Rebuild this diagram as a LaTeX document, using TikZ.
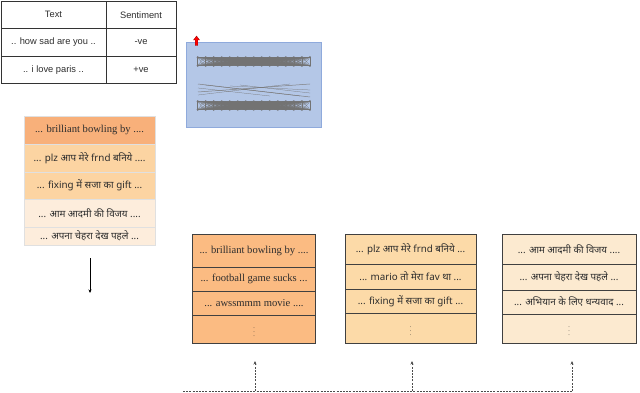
\documentclass[tikz,border=0pt]{standalone}
\usepackage{fontspec}
\setmainfont{Liberation Serif}
\newfontfamily\tabfont{Liberation Sans}
\newfontfamily\hin[Script=Devanagari]{Noto Sans}
\usetikzlibrary{arrows.meta}
\definecolor{bluebox}{RGB}{180,199,231}
\definecolor{blueedge}{RGB}{143,170,220}
\definecolor{orA}{RGB}{251,187,130}
\definecolor{orB}{RGB}{252,218,168}
\definecolor{orC}{RGB}{252,234,208}
\definecolor{lsA}{RGB}{248,176,122}
\definecolor{lsB}{RGB}{252,212,162}
\definecolor{lsC}{RGB}{253,237,220}
\definecolor{txt}{RGB}{45,45,45}
\newcommand{\vd}{{\fontsize{6}{6}\selectfont$\vdots$}}
\tikzset{
  tcell/.style={draw=black!80, line width=0.7pt, inner sep=0pt, text=txt,
    font=\tabfont\fontsize{9.3}{11}\selectfont},
  lcell/.style={draw=black!12, line width=0.5pt, inner sep=0pt, text=txt,
    minimum width=131pt, font=\fontsize{10.6}{12}\selectfont},
  bcell/.style={draw=black!75, line width=0.7pt, inner sep=0pt, text=txt,
    font=\fontsize{10.6}{12}\selectfont},
  hn/.style={font=\hin\fontsize{9.8}{11}\selectfont},
  nn/.style={draw=black!55, line width=0.25pt},
  nnx/.style={draw=black!50, line width=0.5pt},
  solidarrow/.style={draw=black, line width=0.6pt, -{Stealth[length=3.5pt,width=3pt]}},
  dasharrow/.style={draw=black!70, line width=0.7pt, dashed, dash pattern=on 2pt off 1.2pt},
}
\begin{document}
\begin{tikzpicture}[x=1pt,y=-1pt]
\useasboundingbox (0,0) rectangle (640,393);

% table
\node[tcell, minimum width=105pt, minimum height=27.5pt] (t11) at (53.5,14.75) {Text};
\node[tcell, minimum width=70pt, minimum height=27.5pt] (t12) at (141,14.75) {Sentiment};
\node[tcell, minimum width=105pt, minimum height=27.5pt] (t21) at (53.5,42.25) {.. how sad are you ..};
\node[tcell, minimum width=70pt, minimum height=27.5pt] (t22) at (141,42.25) {-ve};
\node[tcell, minimum width=105pt, minimum height=27.5pt] (t31) at (53.5,69.75) {.. i love paris ..};
\node[tcell, minimum width=70pt, minimum height=27.5pt] (t32) at (141,69.75) {+ve};

% blue model box
\node[draw=blueedge, fill=bluebox, line width=0.6pt, minimum width=135pt, minimum height=85pt, inner sep=0pt] (model) at (253.5,84.5) {};
\foreach \i in {0,...,14}{
  \foreach \j in {0,...,14}{
    \draw[nn] ({197+\i*8.1},57) -- ({197+\j*8.1},66);
    \draw[nn] ({197+\i*8.1},101) -- ({197+\j*8.1},110);
  }
}
\draw[nnx] (198,84) -- (310,97);
\draw[nnx] (198,92) -- (310,84);
\draw[nn] (205,85) -- (300,96);
\draw[nn] (230,86) -- (310,90);
\draw[nn] (198,95) -- (290,84);
\draw[nn] (240,85) -- (310,93);
\draw[nn] (198,88) -- (270,96);
% red arrow
\draw[draw=red!60!black, fill=red, line width=0.3pt]
  (195.2,45.5) -- (195.2,40) -- (193.5,40) -- (196.5,36) -- (199.5,40) -- (197.8,40) -- (197.8,45.5) -- cycle;

% left stack
\node[lcell, fill=lsA, minimum height=28pt] (l1) at (89.5,130) {... brilliant bowling by ....};
\node[lcell, fill=lsB, minimum height=28pt, hn] (l2) at (89.5,158) {... plz आप मेरे frnd बनिये ....};
\node[lcell, fill=lsB, minimum height=27pt, hn] (l3) at (89.5,185.5) {... fixing में सजा का gift ...};
\node[lcell, fill=lsC, minimum height=28pt, hn] (l4) at (89.5,213) {... आम आदमी की विजय ....};
\node[lcell, fill=lsC, minimum height=18pt, hn] (l5) at (89.5,236) {... अपना चेहरा देख पहले ...};

\coordinate (la1) at (90,258);
\coordinate (la2) at (90,293);
\draw[solidarrow] (la1) -- (la2);

% bottom box 1
\node[bcell, fill=orA, minimum width=123pt, minimum height=33pt] (a1) at (254,250.5) {... brilliant bowling by ....};
\node[bcell, fill=orA, minimum width=123pt, minimum height=24pt] (a2) at (254,279) {... football game sucks ...};
\node[bcell, fill=orA, minimum width=123pt, minimum height=24pt] (a3) at (254,303) {... awssmmm movie ....};
\node[bcell, fill=orA, minimum width=123pt, minimum height=28pt] (a4) at (254,329) {\vd};

% bottom box 2
\node[bcell, fill=orB, minimum width=131pt, minimum height=30pt, hn] (b1) at (410.5,249) {... plz आप मेरे frnd बनिये ...};
\node[bcell, fill=orB, minimum width=131pt, minimum height=25pt, hn] (b2) at (410.5,276.5) {... mario तो मेरा fav था ...};
\node[bcell, fill=orB, minimum width=131pt, minimum height=24pt, hn] (b3) at (410.5,301) {... fixing में सजा का gift ...};
\node[bcell, fill=orB, minimum width=131pt, minimum height=30pt] (b4) at (410.5,328) {\vd};

% bottom box 3
\node[bcell, fill=orC, minimum width=134pt, minimum height=30pt, hn] (c1) at (569,249) {... आम आदमी की विजय ....};
\node[bcell, fill=orC, minimum width=134pt, minimum height=26pt, hn] (c2) at (569,277) {... अपना चेहरा देख पहले ...};
\node[bcell, fill=orC, minimum width=134pt, minimum height=24pt, hn] (c3) at (569,302) {... अभियान के लिए धन्यवाद ...};
\node[bcell, fill=orC, minimum width=134pt, minimum height=29pt] (c4) at (569,328.5) {\vd};

% dashed distribution lines
\coordinate (d0) at (183,391);
\coordinate (d1) at (255,391);
\coordinate (d2) at (412,391);
\coordinate (d3) at (572,391);
\coordinate (e1) at (255,361);
\coordinate (e2) at (412,361);
\coordinate (e3) at (572,361);
\draw[dasharrow] (d0) -- (d3);
\draw[dasharrow, -{Stealth[length=3.5pt,width=3pt]}] (d1) -- (e1);
\draw[dasharrow, -{Stealth[length=3.5pt,width=3pt]}] (d2) -- (e2);
\draw[dasharrow, -{Stealth[length=3.5pt,width=3pt]}] (d3) -- (e3);
\end{tikzpicture}
\end{document}
